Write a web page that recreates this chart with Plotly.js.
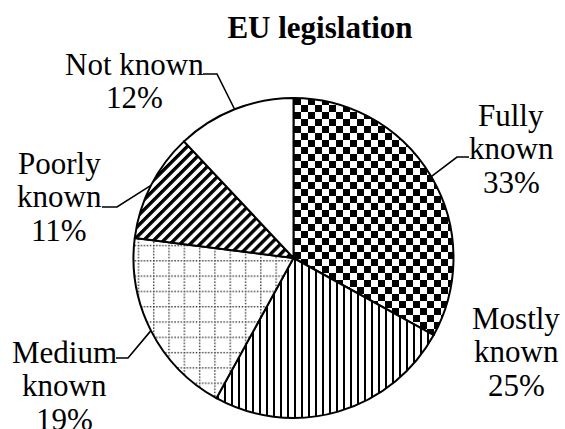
<!DOCTYPE html>
<html><head><meta charset="utf-8">
<script src="https://cdn.plot.ly/plotly-3.0.1.min.js"></script>
<style>html,body{margin:0;padding:0;background:#fff;} #chart{width:565px;height:429px;}</style>
</head><body><div id="chart"></div>
<script>
// ---- data ----
const categories = ['Fully known', 'Mostly known', 'Medium known', 'Poorly known', 'Not known'];
const shares = [33, 25, 19, 11, 12];
const chartTitle = 'EU legislation';

// ---- layout / style constants ----
const W = 565, H = 429;
const CX = 293.5, CY = 258, R = 160;           // pie centre & radius in px
const FONT = 'Liberation Serif';
const LABEL_SIZE = 31, LINE_STEP = 33.5;
const wrapLabel = [true, true, true, true, false];
const labelPos = [[511, 126], [516, 329], [64, 363], [59, 174], [134, 75]]; // centre x, first baseline
const elbows = [[[469, 157], [457, 157]], null, [[116, 358], [128, 358]], [[102, 207], [117, 207]], [[203, 74], [217, 74]]];
const fillIds = ['chk', 'vlines', 'dgrid', 'diag', null];

const px = x => x / W;
const py = y => 1 - y / H;

const data = [{
  type: 'pie',
  labels: categories,
  values: shares,
  sort: false,
  direction: 'clockwise',
  rotation: 0,
  textinfo: 'none',
  hoverinfo: 'none',
  showlegend: false,
  domain: {x: [px(CX - R), px(CX + R)], y: [py(CY + R), py(CY - R)]},
  marker: {
    colors: categories.map(() => 'white'),
    line: {color: 'black', width: 2}
  }
}];

// label annotations (one per line) and leader lines computed from data
const total = shares.reduce((a, b) => a + b, 0);
const annotations = [];
const shapes = [];
let cum = 0;
categories.forEach((cat, i) => {
  const mid = (cum + shares[i] / 2) / total;
  cum += shares[i];
  const ang = 2 * Math.PI * mid;
  const ex = CX + R * Math.sin(ang), ey = CY - R * Math.cos(ang);
  const lines = (wrapLabel[i] ? cat.split(' ') : [cat]).concat([shares[i] + '%']);
  lines.forEach((t, k) => {
    const base = labelPos[i][1] + k * LINE_STEP;
    annotations.push({
      text: t, showarrow: false, xref: 'paper', yref: 'paper',
      x: px(labelPos[i][0]), y: py(base - 0.34 * LABEL_SIZE),
      xanchor: 'center', yanchor: 'middle',
      font: {family: FONT, size: LABEL_SIZE, color: 'black'}
    });
  });
  if (elbows[i]) {
    const a = elbows[i][0], b = elbows[i][1];
    shapes.push({
      type: 'path', xref: 'paper', yref: 'paper',
      path: `M ${px(a[0])} ${py(a[1])} L ${px(b[0])} ${py(b[1])} L ${px(ex)} ${py(ey)}`,
      line: {color: 'black', width: 1.6}
    });
  }
});

const layout = {
  width: W, height: H,
  margin: {l: 0, r: 0, t: 0, b: 0},
  paper_bgcolor: 'white', plot_bgcolor: 'white',
  title: {
    text: '<b>' + chartTitle + '</b>',
    x: px(320), xref: 'paper', xanchor: 'center',
    y: py(38 - 0.34 * 31), yref: 'container', yanchor: 'middle',
    font: {family: FONT, size: 31, color: 'black'}
  },
  annotations: annotations,
  shapes: shapes
};

const gd = document.getElementById('chart');
Plotly.newPlot(gd, data, layout, {staticPlot: true, displayModeBar: false}).then(() => {
  const NS = 'http://www.w3.org/2000/svg';
  const svg = gd.querySelector('svg.main-svg');
  let defs = svg.querySelector('defs');
  if (!defs) { defs = document.createElementNS(NS, 'defs'); svg.insertBefore(defs, svg.firstChild); }
  function mk(tag, attrs, parent) {
    const el = document.createElementNS(NS, tag);
    for (const k in attrs) el.setAttribute(k, attrs[k]);
    if (parent) parent.appendChild(el);
    return el;
  }
  // checkerboard
  const c = 7;
  const chk = mk('pattern', {id: 'chk', width: 2 * c, height: 2 * c, patternUnits: 'userSpaceOnUse', x: 294, y: 98}, defs);
  mk('rect', {x: 0, y: 0, width: 2 * c, height: 2 * c, fill: 'white'}, chk);
  mk('rect', {x: 0, y: 0, width: c, height: c, fill: 'black'}, chk);
  mk('rect', {x: c, y: c, width: c, height: c, fill: 'black'}, chk);
  // vertical lines
  const vl = mk('pattern', {id: 'vlines', width: 7, height: 7, patternUnits: 'userSpaceOnUse'}, defs);
  mk('rect', {x: 0, y: 0, width: 7, height: 7, fill: 'white'}, vl);
  mk('rect', {x: 0, y: 0, width: 2, height: 7, fill: 'black'}, vl);
  // diagonal stripes
  const dg = mk('pattern', {id: 'diag', width: 7.1, height: 7.1, patternUnits: 'userSpaceOnUse', patternTransform: 'rotate(45)'}, defs);
  mk('rect', {x: 0, y: 0, width: 7.1, height: 7.1, fill: 'white'}, dg);
  mk('rect', {x: 0, y: 0, width: 3.4, height: 7.1, fill: 'black'}, dg);
  // dotted grid
  const g = 15.3;
  const grid = mk('pattern', {id: 'dgrid', width: g, height: g, patternUnits: 'userSpaceOnUse'}, defs);
  mk('rect', {x: 0, y: 0, width: g, height: g, fill: 'white'}, grid);
  for (let t = 0; t < g - 1; t += 3.06) {
    mk('rect', {x: t, y: 0, width: 1.4, height: 1.4, fill: '#333'}, grid);
    mk('rect', {x: 0, y: t, width: 1.4, height: 1.4, fill: '#333'}, grid);
  }
  const paths = gd.querySelectorAll('.slice path.surface');
  paths.forEach((p, i) => { if (fillIds[i]) p.style.fill = 'url(#' + fillIds[i] + ')'; });
});
</script>
</body></html>
